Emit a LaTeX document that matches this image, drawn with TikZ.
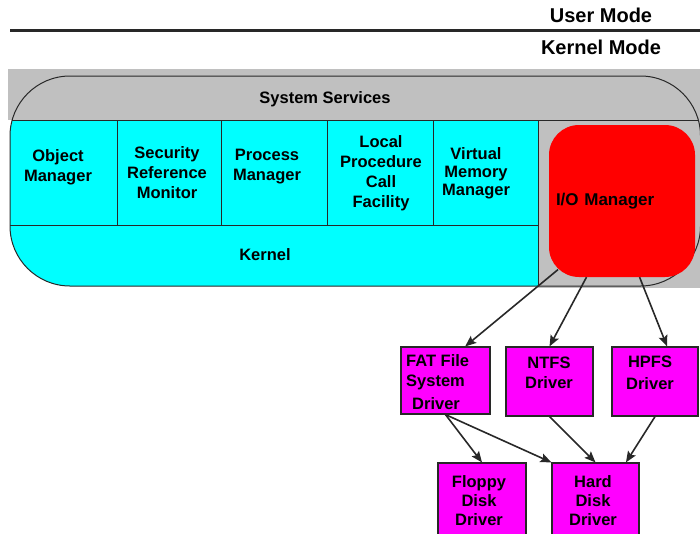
\documentclass[tikz,border=0pt]{standalone}
\usepackage{fontspec}
\setmainfont{Liberation Sans}
\usetikzlibrary{arrows.meta,calc}
\definecolor{sysgray}{RGB}{192,192,192}
\definecolor{kcyan}{RGB}{0,255,255}
\definecolor{iored}{RGB}{255,0,0}
\definecolor{drvmag}{RGB}{255,0,255}
\definecolor{edge}{RGB}{40,40,40}
\begin{document}
\begin{tikzpicture}[x=1pt,y=-1pt,
  lbl/.style={font=\fontsize{16.5}{20}\selectfont\bfseries, align=center, inner sep=0pt},
  toplbl/.style={font=\fontsize{20}{24}\selectfont\bfseries, inner sep=0pt},
  drv/.style={draw=edge, line width=1.2pt, fill=drvmag, inner sep=0pt},
  iobox/.style={fill=iored, rounded corners=30pt, inner sep=0pt},
  arr/.style={draw=edge, line width=1.6pt, -{Stealth[length=11pt,width=9pt,inset=2pt]}},
  sep/.style={draw=edge, line width=0.9pt}
]
\useasboundingbox (0,0) rectangle (700,533);

% mode labels and separator
\node[toplbl] (user) at (601,15) {User Mode};
\node[toplbl] (kmode) at (601,47) {Kernel Mode};
\draw[line width=3pt, edge] (10,30) -- (700,30);

% gray background
\fill[sysgray] (8,69) rectangle (700,120);
\fill[sysgray] (538,120) rectangle (700,288);

% cyan region inside the rounded outline
\begin{scope}
  \clip[rounded corners=60pt] (10,76) rectangle (700.5,286);
  \fill[kcyan] (0,120) rectangle (538,300);
  \draw[sep] (0,120) -- (700,120);
  \draw[sep] (0,225) -- (538,225);
  \foreach \xx in {117,221,327,433} \draw[sep] (\xx,120) -- (\xx,225);
  \draw[sep] (538,120) -- (538,290);
\end{scope}
\draw[edge, line width=1pt, rounded corners=60pt] (10,76) rectangle (700.5,286);

% texts in the services block
\node[lbl] (sys) at (325,99) {System Services};
\node[lbl] (obj) at (58,167) {Object\\Manager};
\node[lbl] (srm) at (167,173) {Security\\Reference\\Monitor};
\node[lbl] (proc) at (267,167) {Process\\Manager};
\node[lbl] (lpc) at (381,173) {Local\\Procedure\\Call\\Facility};
\node[lbl, font=\fontsize{16.5}{18}\selectfont\bfseries] (vmm) at (476,173) {Virtual\\Memory\\Manager};
\node[lbl] (kern) at (265,255) {Kernel};

% I/O manager
\node[iobox, minimum width=146pt, minimum height=152pt, text width=132pt, align=left, inner xsep=7pt,
      font=\fontsize{17}{20}\selectfont\bfseries] (io) at (622,201) {I/O Manager};

% driver boxes
\node[drv, minimum width=89pt, minimum height=67pt] (fat) at (445.5,380.5) {};
\node[drv, minimum width=87pt, minimum height=69pt] (ntfs) at (549.5,381.5) {};
\node[drv, minimum width=86pt, minimum height=69pt] (hpfs) at (655,381.5) {};
\node[drv, minimum width=88pt, minimum height=74pt] (floppy) at (482,500) {};
\node[drv, minimum width=87pt, minimum height=74pt] (hard) at (595.5,500) {};

\node[lbl, align=left, anchor=west] (fatt) at (406,382) {FAT File\\System\\[3pt]\hspace*{6pt}Driver};
\node[lbl] (ntfst) at (549,373) {NTFS\\Driver};
\node[lbl] (hpfst) at (650,373) {HPFS\\[2pt]Driver};
\node[lbl, font=\fontsize{16.5}{19}\selectfont\bfseries] (flopt) at (479,501) {Floppy\\Disk\\Driver};
\node[lbl, font=\fontsize{16.5}{19}\selectfont\bfseries] (hardt) at (593,501) {Hard\\Disk\\Driver};

% connectors
\draw[arr, shorten <=-12pt] (io.south west) -- (fat.60);
\draw[arr] (io.245) -- (ntfs.north);
\draw[arr] (io.283) -- (hpfs.71);
\draw[arr] (fat.south) -- (floppy.north);
\draw[arr] (fat.south) -- (hard.north west);
\draw[arr] (ntfs.south) -- (hard.north);
\draw[arr] (hpfs.south) -- (hard.51);
\end{tikzpicture}
\end{document}
